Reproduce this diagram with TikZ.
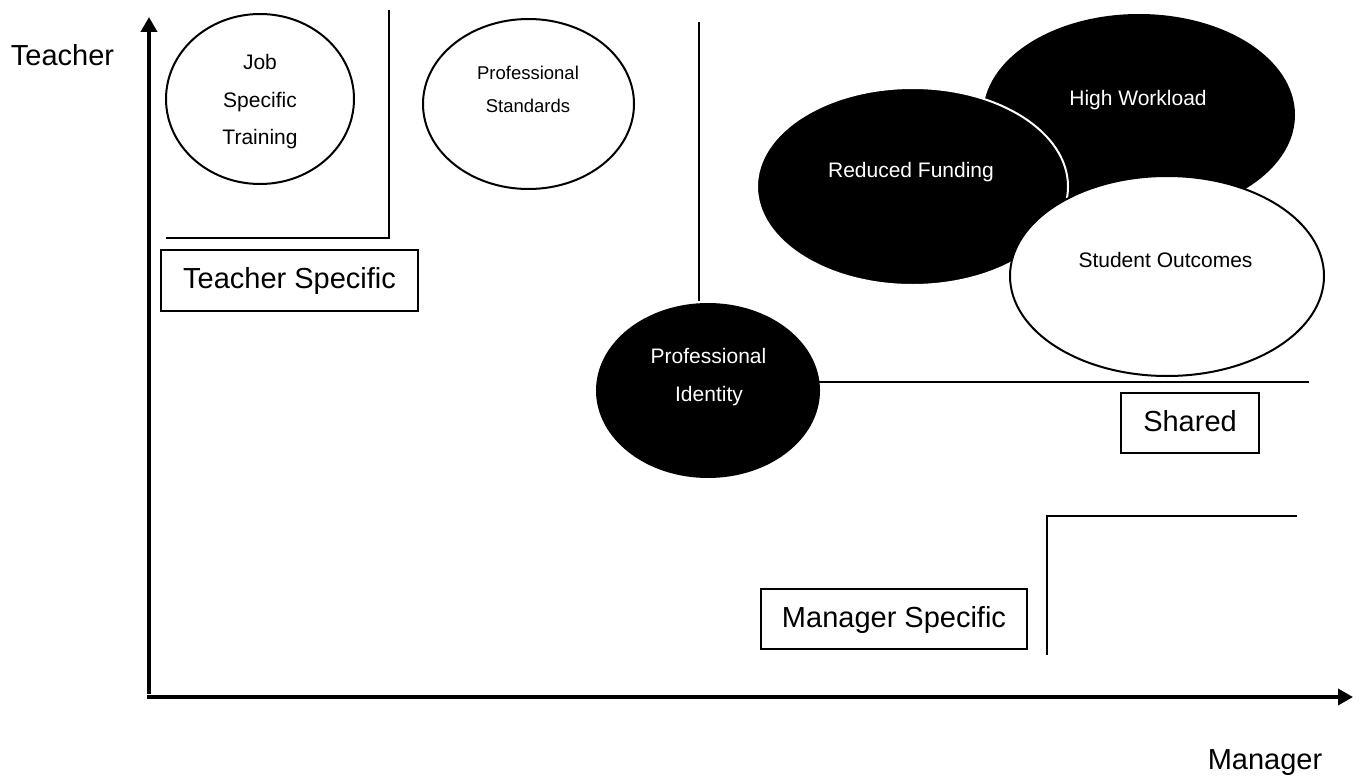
\documentclass[tikz,border=0pt]{standalone}
\usepackage{fontspec}
\setmainfont{Liberation Sans}
\usetikzlibrary{shapes.geometric,arrows.meta}
\begin{document}
\begin{tikzpicture}[x=1pt,y=-1pt,
  oval/.style={ellipse,inner sep=0pt,line width=2pt},
  small/.style={font=\fontsize{21}{25}\selectfont,anchor=base,inner sep=0pt},
  smaller/.style={font=\fontsize{18.5}{22}\selectfont,anchor=base,inner sep=0pt},
  big/.style={font=\fontsize{29}{35}\selectfont,anchor=base,inner sep=0pt},
  tag/.style={draw,line width=1.5pt,inner sep=0pt,font=\fontsize{29}{35}\selectfont,text height=21pt,text depth=5pt},
  divider/.style={line width=1.3pt},
  axis/.style={line width=3.6pt,-{Triangle[length=15pt,width=16pt]}}]
\useasboundingbox (0,0) rectangle (1360,776);

% axes
\coordinate (ybot) at (149,694);
\coordinate (ytop) at (149,17);
\coordinate (xl) at (147,697);
\coordinate (xr) at (1353,697);
\draw[axis] (ybot) -- (ytop);
\draw[axis] (xl) -- (xr);
\node[big] (teacher) at (62.5,66) {Teacher};
\node[big] (manager) at (1265,769) {Manager};

% teacher specific region
\node[oval,draw=black,minimum width=188pt,minimum height=170pt] (jst) at (260,99) {};
\node[small] (jst1) at (260,69.5) {Job};
\node[small] (jst2) at (260,107) {Specific};
\node[small] (jst3) at (260,144) {Training};

\node[oval,draw=black,minimum width=211pt,minimum height=170pt] (ps) at (528.5,104) {};
\node[smaller] (ps1) at (528,79) {Professional};
\node[smaller] (ps2) at (528,112) {Standards};

\draw[divider] (389,10) -- (389,238) -- (166,238);
\node[tag,minimum width=257pt,minimum height=61pt] (ts) at (289.5,280.5) {Teacher Specific};

% shared region
\draw[divider] (699,22) -- (699,301);
\node[oval,fill=black,draw=black,minimum width=310pt,minimum height=200pt] (hw) at (1139,115) {};
\node[small,text=white] (hwt) at (1138,105.5) {High Workload};
\node[oval,fill=black,draw=white,minimum width=311pt,minimum height=197pt] (rf) at (912.5,186.5) {};
\node[small,text=white] (rft) at (911,177) {Reduced Funding};
\node[oval,fill=white,draw=black,minimum width=314pt,minimum height=200pt] (so) at (1167,276) {};
\node[small] (sot) at (1165.5,267) {Student Outcomes};

\node[oval,fill=black,draw=black,minimum width=222pt,minimum height=173pt] (pi) at (708,390.5) {};
\node[small,text=white] (pi1) at (708.5,363) {Professional};
\node[small,text=white] (pi2) at (709,401) {Identity};

\draw[divider] (819,382) -- (1309,382);
\node[tag,minimum width=138pt,minimum height=60pt] (sh) at (1190,423) {Shared};

% manager specific region
\draw[divider] (1297,516) -- (1047,516) -- (1047,655);
\node[tag,minimum width=266pt,minimum height=60pt] (ms) at (894,619) {Manager Specific};
\end{tikzpicture}
\end{document}
